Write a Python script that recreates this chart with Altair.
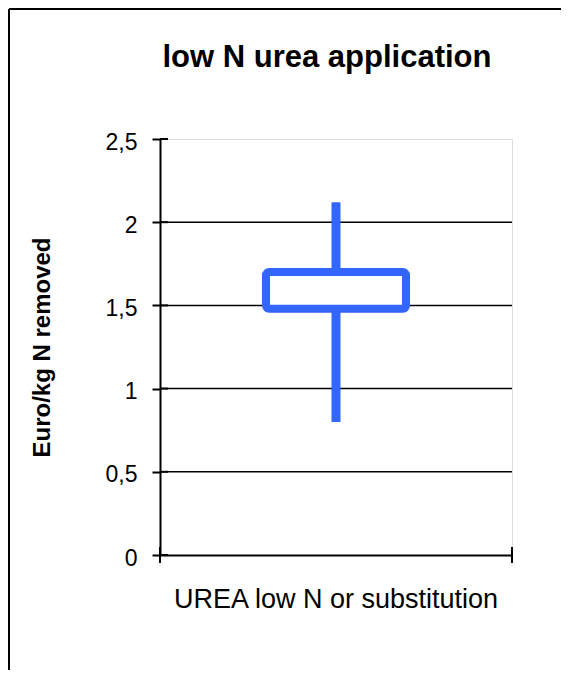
import altair as alt
import pandas as pd

# ---- data ----
categories = ["UREA low N or substitution"]
whisker_low = [0.80]
whisker_high = [2.12]
box_low = [1.48]
box_high = [1.70]
y_ticks = [0, 0.5, 1, 1.5, 2, 2.5]
grid_values = [0.5, 1, 1.5, 2]

W, H = 352, 416
FONT = "Liberation Sans"
BLUE = "#3366FF"
YTITLE = "Euro/kg N removed"

box_df = pd.DataFrame({"cat": categories, "lo": whisker_low, "hi": whisker_high,
                       "q1": box_low, "q3": box_high})
grid_df = pd.DataFrame({"v": grid_values})
tick_df = pd.DataFrame({"v": y_ticks})
one_df = pd.DataFrame({"k": [0]})

yscale = alt.Scale(domain=[0, 2.5], nice=False, zero=True)
yaxis = alt.Axis(values=y_ticks, labelExpr="replace(toString(datum.value), '.', ',')",
                 tickSize=8, tickWidth=2, tickColor="black", domainColor="black",
                 domainWidth=2, labelFont=FONT, labelFontSize=23, labelColor="black",
                 labelPadding=15, labelOffset=3, grid=False,
                 titleFont=FONT, titleFontSize=24, titleFontWeight="bold", titleColor="black",
                 titleAngle=270, titleX=-118, titleY=H / 2, titleAlign="center",
                 titleBaseline="middle")
xaxis = alt.Axis(labelAngle=0, ticks=False, domainColor="black", domainWidth=2,
                 labelFont=FONT, labelFontSize=27, labelColor="black", labelPadding=31,
                 labelBaseline="top", labelLimit=0, grid=False, title=None)
xscale = alt.Scale(paddingInner=0, paddingOuter=0)

grid = alt.Chart(grid_df).mark_rule(color="black", strokeWidth=1.5).encode(
    y=alt.Y("v:Q", scale=yscale, axis=yaxis, title=YTITLE),
    x=alt.value(0), x2=alt.value(W))

inner_ticks = alt.Chart(tick_df).mark_rule(color="black", strokeWidth=2).encode(
    y=alt.Y("v:Q", scale=yscale, title=YTITLE),
    x=alt.value(0), x2=alt.value(8))

xt_left = alt.Chart(one_df).mark_rule(color="black", strokeWidth=2).encode(
    x=alt.value(0), y=alt.value(H - 8), y2=alt.value(H + 8))
xt_right = alt.Chart(one_df).mark_rule(color="black", strokeWidth=2).encode(
    x=alt.value(W), y=alt.value(H - 8), y2=alt.value(H + 8))

whisker = alt.Chart(box_df).mark_rule(color=BLUE, strokeWidth=9).encode(
    x=alt.X("cat:N", scale=xscale, axis=xaxis),
    y=alt.Y("lo:Q", scale=yscale, title=YTITLE),
    y2="hi:Q")

box = alt.Chart(box_df).mark_bar(size=140, fill="white", stroke=BLUE, strokeWidth=8,
                                  cornerRadius=3).encode(
    x=alt.X("cat:N", scale=xscale, axis=xaxis),
    y=alt.Y("q1:Q", scale=yscale, title=YTITLE),
    y2="q3:Q")

frame_top = alt.Chart(one_df).mark_rule(color="black", strokeWidth=2, clip=False).encode(
    x=alt.value(-151), x2=alt.value(W + 60), y=alt.value(-130))
frame_left = alt.Chart(one_df).mark_rule(color="black", strokeWidth=2, clip=False).encode(
    x=alt.value(-151), y=alt.value(-130), y2=alt.value(H + 130))

chart = alt.layer(grid, inner_ticks, xt_left, xt_right, whisker, box, frame_top, frame_left).properties(
    width=W, height=H,
    title=alt.TitleParams("low N urea application", font=FONT, fontSize=31, fontWeight="bold",
                          color="black", anchor="middle", frame="group", offset=-90, dx=-9,
                          baseline="alphabetic"),
    autosize=alt.AutoSizeParams(type="none"),
    padding={"left": 152, "top": 131, "right": 49, "bottom": 115},
).configure_view(stroke="#808080", strokeWidth=1.5).configure(background="white")

chart.save("out.html", embed_options={"renderer": "svg", "actions": False})
